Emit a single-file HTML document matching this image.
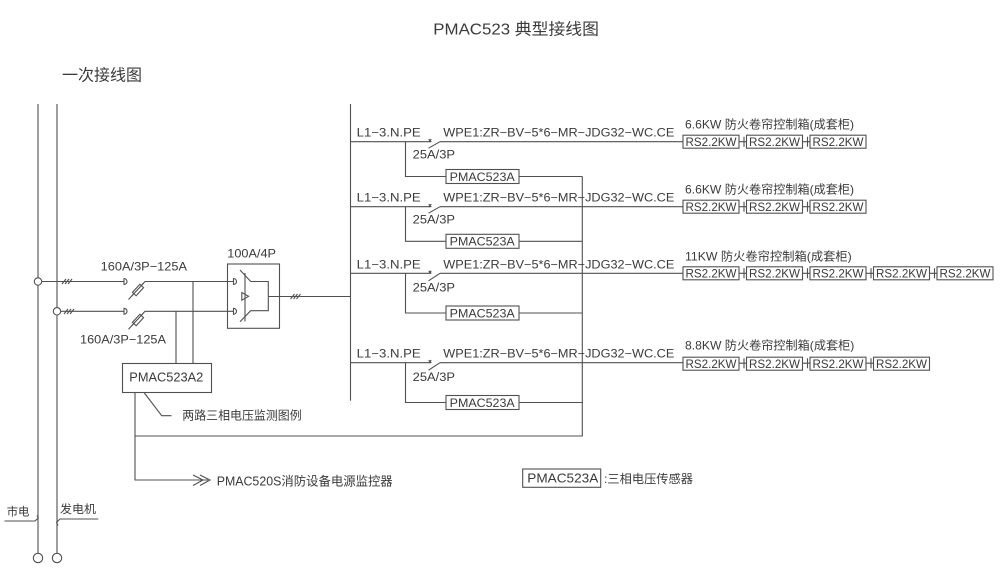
<!DOCTYPE html>
<html>
<head>
<meta charset="utf-8">
<style>
  html,body{margin:0;padding:0;background:#fff;}
  svg{display:block;}
  text{font-family:"Liberation Sans","Noto Sans CJK SC",sans-serif;fill:#3a3a3a;}
  .l{stroke:#505050;stroke-width:1.1;fill:none;}
  .b{stroke:#505050;stroke-width:1.1;fill:#fff;}
</style>
</head>
<body>
<svg width="1000" height="586" viewBox="0 0 1000 586" xmlns="http://www.w3.org/2000/svg">
  <!-- Title -->
  <text x="433.3" y="34.3" font-size="16" textLength="165.7" lengthAdjust="spacingAndGlyphs">PMAC523 典型接线图</text>
  <text x="62" y="80.7" font-size="16" textLength="80" lengthAdjust="spacingAndGlyphs">一次接线图</text>

  <!-- Left source lines -->
  <path class="l" d="M38 104 V553.3 M57 104 V553.3"/>
  <circle class="b" cx="38" cy="558" r="4.7"/>
  <circle class="b" cx="57" cy="558" r="4.7"/>

  <!-- 市电 / 发电机 labels -->
  <text x="6.7" y="515.5" font-size="11.5" textLength="22.7" lengthAdjust="spacingAndGlyphs">市电</text>
  <path class="l" d="M4.5 521 H35 L38.3 518 L37 515.5"/>
  <text x="60" y="513" font-size="11.5" textLength="36" lengthAdjust="spacingAndGlyphs">发电机</text>
  <path class="l" d="M98.3 519 H60 L56.5 522.5 L58 525.5"/>

  <!-- Input line upper -->
  <path class="l" d="M38 281.5 H124"/>
  <circle class="b" cx="38" cy="281.5" r="3.7"/>
  <path class="l" d="M62 284 L66 279 M65 284 L69 279 M68 284 L72 279"/>
  <path class="l" d="M124 278 V285 M124 278.5 A3 3 0 0 1 124 284.5"/>
  <path class="l" d="M128.5 299.5 L145 281.5 H233.5"/>
  <rect class="b" x="-5.5" y="-2.5" width="11" height="5" transform="translate(138,290) rotate(-47.5)"/>
  <path class="l" d="M131.5 296.2 L143.5 283.2"/>

  <!-- Input line lower -->
  <path class="l" d="M57 311.3 H124"/>
  <circle class="b" cx="57" cy="311.3" r="3.7"/>
  <path class="l" d="M64 314 L68 309 M67 314 L71 309 M70 314 L74 309"/>
  <path class="l" d="M124 307.8 V314.8 M124 308.3 A3 3 0 0 1 124 314.3"/>
  <path class="l" d="M128.5 329.3 L145 311.3 H233.5"/>
  <rect class="b" x="-5.5" y="-2.5" width="11" height="5" transform="translate(138,320) rotate(-47.5)"/>
  <path class="l" d="M131.5 326 L143.5 313"/>

  <text x="100.7" y="270.5" font-size="12" textLength="86.3" lengthAdjust="spacingAndGlyphs">160A/3P−125A</text>
  <text x="80" y="343.3" font-size="12" textLength="86" lengthAdjust="spacingAndGlyphs">160A/3P−125A</text>

  <!-- taps to PMAC523A2 -->
  <path class="l" d="M193 281.5 V363.5 M176 311.3 V363.5"/>
  <rect class="b" x="122.5" y="363.5" width="89" height="29"/>
  <text x="129.3" y="381.5" font-size="12.5" textLength="74" lengthAdjust="spacingAndGlyphs">PMAC523A2</text>

  <!-- ATS -->
  <text x="227.3" y="257.3" font-size="12" textLength="48.7" lengthAdjust="spacingAndGlyphs">100A/4P</text>
  <rect class="l" x="227.5" y="264" width="52" height="64.3"/>
  <path class="l" d="M233.5 278 V285 M233.5 278.5 A3 3 0 0 1 233.5 284.5"/>
  <path class="l" d="M233.5 307.8 V314.8 M233.5 308.3 A3 3 0 0 1 233.5 314.3"/>
  <path class="l" d="M240 270 L250.7 281.5 H268.3 V310.7 H250.7 L240 321.7"/>
  <path class="l" d="M245 273 V321.5"/>
  <path class="l" d="M241.8 292.5 V300.2 L248.6 296.3 Z"/>
  <path class="l" d="M268.3 296.5 H350.5"/>
  <path class="l" d="M290.5 299 L294.5 294 M293.5 299 L297.5 294 M296.5 299 L300.5 294"/>

  <!-- Main bus -->
  <path class="l" d="M350.5 104 V400.7"/>

  <!-- PMAC523A2 outputs -->
  <path class="l" d="M135 392.5 V480 H208"/>
  <path class="l" d="M193 475 L203 480 L193 485.5 M200 475 L210 480 L200 485.5"/>
  <text x="216.7" y="485.5" font-size="12.5" textLength="176" lengthAdjust="spacingAndGlyphs">PMAC520S消防设备电源监控器</text>
  <path class="l" d="M144 392.5 L161.7 415.7 H171.5"/>
  <text x="182.3" y="419.5" font-size="12" textLength="119.4" lengthAdjust="spacingAndGlyphs">两路三相电压监测图例</text>
  <path class="l" d="M135 436 H582.3 V176.5"/>

  <!-- Branch 1 -->
  <g>
    <path class="l" d="M350.5 141.7 H431 M440 141.7 H683"/>
    <path class="l" d="M428.7 139.2 L431.3 141.8 M431.3 139.2 L428.7 141.8"/>
    <path class="l" d="M428.5 148.2 L440 141.7"/>
    <text x="356.7" y="136.7" font-size="11.5" textLength="64" lengthAdjust="spacingAndGlyphs">L1−3.N.PE</text>
    <text x="443.3" y="136.7" font-size="11.5" textLength="231" lengthAdjust="spacingAndGlyphs">WPE1:ZR−BV−5*6−MR−JDG32−WC.CE</text>
    <text x="412.7" y="158.3" font-size="11.5" textLength="42.3" lengthAdjust="spacingAndGlyphs">25A/3P</text>
    <path class="l" d="M405.5 141.7 V176.5 H446 M519 176.5 H582.3"/>
    <rect class="b" x="446" y="169.5" width="73" height="14"/>
    <text x="449.7" y="180.8" font-size="12" textLength="65" lengthAdjust="spacingAndGlyphs">PMAC523A</text>
    <text x="685" y="128.7" font-size="12" textLength="169" lengthAdjust="spacingAndGlyphs">6.6KW 防火卷帘控制箱(成套柜)</text>
    <path class="l" d="M739 141.7 H746.5 M744 136.7 V146.7 M802.5 141.7 H810 M807.5 136.7 V146.7"/>
    <rect class="b" x="683" y="135.2" width="56" height="13"/>
    <rect class="b" x="746.5" y="135.2" width="56" height="13"/>
    <rect class="b" x="810" y="135.2" width="56" height="13"/>
    <text x="685.5" y="146" font-size="12" textLength="51" lengthAdjust="spacingAndGlyphs">RS2.2KW</text>
    <text x="749" y="146" font-size="12" textLength="51" lengthAdjust="spacingAndGlyphs">RS2.2KW</text>
    <text x="812.5" y="146" font-size="12" textLength="51" lengthAdjust="spacingAndGlyphs">RS2.2KW</text>
  </g>

  <!-- Branch 2 -->
  <g>
    <path class="l" d="M350.5 206.7 H431 M440 206.7 H683"/>
    <path class="l" d="M428.7 204.2 L431.3 206.8 M431.3 204.2 L428.7 206.8"/>
    <path class="l" d="M428.5 213.2 L440 206.7"/>
    <text x="356.7" y="201.7" font-size="11.5" textLength="64" lengthAdjust="spacingAndGlyphs">L1−3.N.PE</text>
    <text x="443.3" y="201.7" font-size="11.5" textLength="231" lengthAdjust="spacingAndGlyphs">WPE1:ZR−BV−5*6−MR−JDG32−WC.CE</text>
    <text x="412.7" y="223.3" font-size="11.5" textLength="42.3" lengthAdjust="spacingAndGlyphs">25A/3P</text>
    <path class="l" d="M405.5 206.7 V241.3 H446 M519 241.3 H582.3"/>
    <rect class="b" x="446" y="234.3" width="73" height="14"/>
    <text x="449.7" y="245.6" font-size="12" textLength="65" lengthAdjust="spacingAndGlyphs">PMAC523A</text>
    <text x="685" y="193.7" font-size="12" textLength="169" lengthAdjust="spacingAndGlyphs">6.6KW 防火卷帘控制箱(成套柜)</text>
    <path class="l" d="M739 206.7 H746.5 M744 201.7 V211.7 M802.5 206.7 H810 M807.5 201.7 V211.7"/>
    <rect class="b" x="683" y="200.2" width="56" height="13"/>
    <rect class="b" x="746.5" y="200.2" width="56" height="13"/>
    <rect class="b" x="810" y="200.2" width="56" height="13"/>
    <text x="685.5" y="211" font-size="12" textLength="51" lengthAdjust="spacingAndGlyphs">RS2.2KW</text>
    <text x="749" y="211" font-size="12" textLength="51" lengthAdjust="spacingAndGlyphs">RS2.2KW</text>
    <text x="812.5" y="211" font-size="12" textLength="51" lengthAdjust="spacingAndGlyphs">RS2.2KW</text>
  </g>

  <!-- Branch 3 -->
  <g>
    <path class="l" d="M350.5 273.3 H431 M440 273.3 H683"/>
    <path class="l" d="M428.7 270.8 L431.3 273.4 M431.3 270.8 L428.7 273.4"/>
    <path class="l" d="M428.5 280.8 L440 273.3"/>
    <text x="356.7" y="268.3" font-size="11.5" textLength="64" lengthAdjust="spacingAndGlyphs">L1−3.N.PE</text>
    <text x="443.3" y="268.3" font-size="11.5" textLength="231" lengthAdjust="spacingAndGlyphs">WPE1:ZR−BV−5*6−MR−JDG32−WC.CE</text>
    <text x="412.7" y="291.7" font-size="11.5" textLength="42.3" lengthAdjust="spacingAndGlyphs">25A/3P</text>
    <path class="l" d="M405.5 273.3 V313 H446 M519 313 H582.3"/>
    <rect class="b" x="446" y="306" width="73" height="14"/>
    <text x="449.7" y="317.3" font-size="12" textLength="65" lengthAdjust="spacingAndGlyphs">PMAC523A</text>
    <text x="685" y="260.3" font-size="12" textLength="166.7" lengthAdjust="spacingAndGlyphs">11KW 防火卷帘控制箱(成套柜)</text>
    <path class="l" d="M739 273.3 H746.5 M744 268.3 V278.3 M802.5 273.3 H810 M807.5 268.3 V278.3 M866 273.3 H873.5 M871 268.3 V278.3 M929.5 273.3 H937 M934.5 268.3 V278.3"/>
    <rect class="b" x="683" y="266.8" width="56" height="13"/>
    <rect class="b" x="746.5" y="266.8" width="56" height="13"/>
    <rect class="b" x="810" y="266.8" width="56" height="13"/>
    <rect class="b" x="873.5" y="266.8" width="56" height="13"/>
    <rect class="b" x="937" y="266.8" width="56" height="13"/>
    <text x="685.5" y="277.6" font-size="12" textLength="51" lengthAdjust="spacingAndGlyphs">RS2.2KW</text>
    <text x="749" y="277.6" font-size="12" textLength="51" lengthAdjust="spacingAndGlyphs">RS2.2KW</text>
    <text x="812.5" y="277.6" font-size="12" textLength="51" lengthAdjust="spacingAndGlyphs">RS2.2KW</text>
    <text x="876" y="277.6" font-size="12" textLength="51" lengthAdjust="spacingAndGlyphs">RS2.2KW</text>
    <text x="939.5" y="277.6" font-size="12" textLength="51" lengthAdjust="spacingAndGlyphs">RS2.2KW</text>
  </g>

  <!-- Branch 4 -->
  <g>
    <path class="l" d="M350.5 362.7 H431 M440 362.7 H683"/>
    <path class="l" d="M428.7 360.2 L431.3 362.8 M431.3 360.2 L428.7 362.8"/>
    <path class="l" d="M428.5 370.2 L440 362.7"/>
    <text x="356.7" y="357.7" font-size="11.5" textLength="64" lengthAdjust="spacingAndGlyphs">L1−3.N.PE</text>
    <text x="443.3" y="357.7" font-size="11.5" textLength="231" lengthAdjust="spacingAndGlyphs">WPE1:ZR−BV−5*6−MR−JDG32−WC.CE</text>
    <text x="412.7" y="381.1" font-size="11.5" textLength="42.3" lengthAdjust="spacingAndGlyphs">25A/3P</text>
    <path class="l" d="M405.5 362.7 V402.5 H446 M519 402.5 H582.3"/>
    <rect class="b" x="446" y="395.5" width="73" height="14"/>
    <text x="449.7" y="406.8" font-size="12" textLength="65" lengthAdjust="spacingAndGlyphs">PMAC523A</text>
    <text x="685" y="349.7" font-size="12" textLength="169.3" lengthAdjust="spacingAndGlyphs">8.8KW 防火卷帘控制箱(成套柜)</text>
    <path class="l" d="M739 363.2 H746.5 M744 358.2 V368.2 M802.5 363.2 H810 M807.5 358.2 V368.2 M866 363.2 H873.5 M871 358.2 V368.2"/>
    <rect class="b" x="683" y="357.2" width="56" height="13"/>
    <rect class="b" x="746.5" y="357.2" width="56" height="13"/>
    <rect class="b" x="810" y="357.2" width="56" height="13"/>
    <rect class="b" x="873.5" y="357.2" width="56" height="13"/>
    <text x="685.5" y="368" font-size="12" textLength="51" lengthAdjust="spacingAndGlyphs">RS2.2KW</text>
    <text x="749" y="368" font-size="12" textLength="51" lengthAdjust="spacingAndGlyphs">RS2.2KW</text>
    <text x="812.5" y="368" font-size="12" textLength="51" lengthAdjust="spacingAndGlyphs">RS2.2KW</text>
    <text x="876" y="368" font-size="12" textLength="51" lengthAdjust="spacingAndGlyphs">RS2.2KW</text>
  </g>

  <!-- Legend -->
  <rect class="b" x="522.7" y="469" width="78" height="18.3"/>
  <text x="527.3" y="482.6" font-size="12.5" textLength="71" lengthAdjust="spacingAndGlyphs">PMAC523A</text>
  <text x="604" y="483" font-size="12" textLength="89" lengthAdjust="spacingAndGlyphs">:三相电压传感器</text>
</svg>
</body>
</html>
